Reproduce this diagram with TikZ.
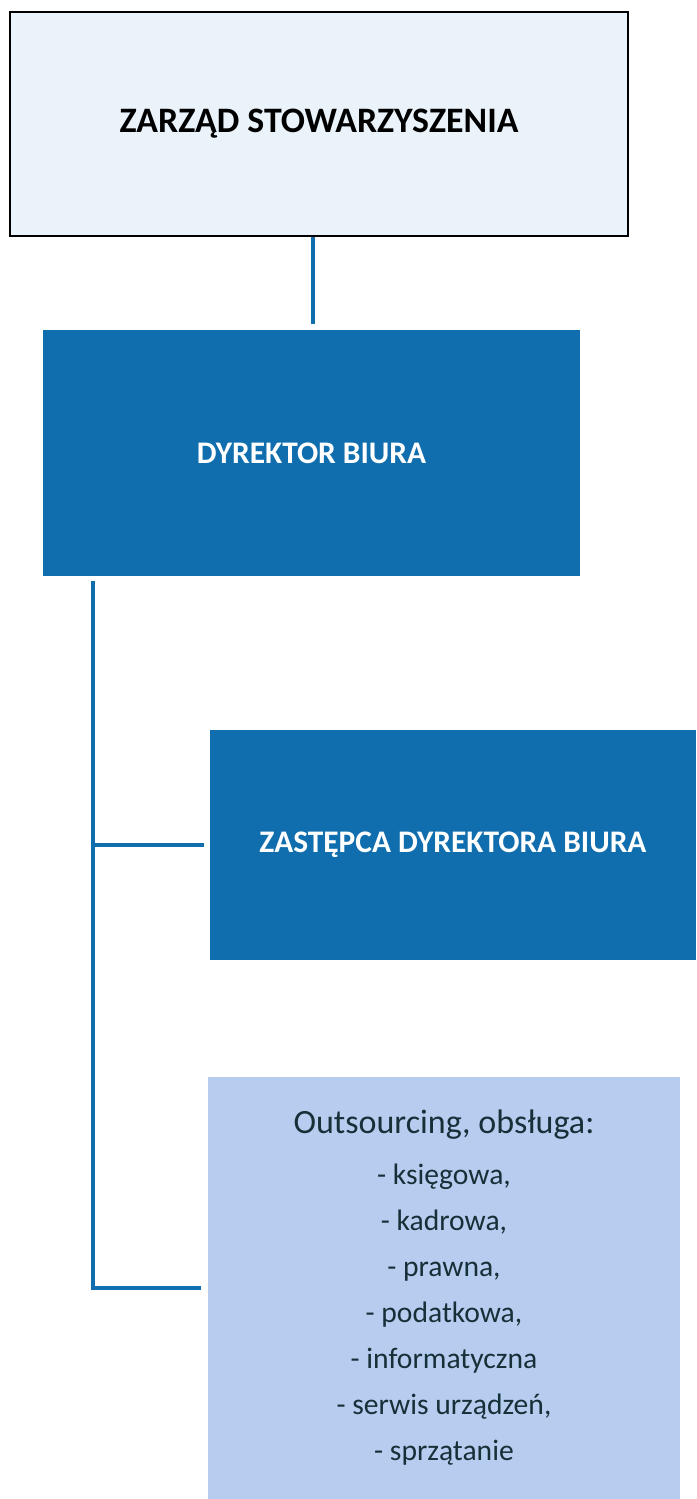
\documentclass[tikz,border=0pt]{standalone}
\usepackage{fontspec}
\setmainfont{Carlito}
\usetikzlibrary{positioning}
\definecolor{paleblue}{RGB}{234,243,250}
\definecolor{darkblue}{RGB}{16,110,174}
\definecolor{lightblue}{RGB}{182,205,240}
\definecolor{darktext}{RGB}{22,48,56}
\begin{document}
\begin{tikzpicture}[x=0.5pt, y=-0.5pt, thick,
  head/.style = {draw=black, line width=1pt, fill=paleblue, minimum width=309pt, minimum height=112pt, font=\fontsize{17.9}{21}\selectfont\bfseries},
  boss/.style = {fill=darkblue, text=white, font=\fontsize{15.7}{18}\selectfont\bfseries},
  extra/.style = {fill=lightblue, text=darktext, align=center, font=\fontsize{14.8}{23}\selectfont},
  link/.style = {draw=darkblue, line width=2pt}]
  \useasboundingbox (0,0) rectangle (696,1499);
  \node[head] (zarzad) at (319,124) {ZARZĄD STOWARZYSZENIA};
  \node[boss, minimum width=268.5pt, minimum height=123pt] (dyrektor) at (311.5,453) {DYREKTOR BIURA};
  \node[boss, minimum width=243pt, minimum height=115pt] (zastepca) at (453,845) {ZASTĘPCA DYREKTORA BIURA};
  \node[extra, minimum width=236pt, minimum height=211pt] (outsourcing) at (444,1288)
    {{\fontsize{17}{23}\selectfont Outsourcing, obsługa:}\\[2.5pt]- księgowa,\\- kadrowa,\\- prawna,\\- podatkowa,\\- informatyczna\\- serwis urządzeń,\\- sprzątanie};

  \draw[link] ([xshift=0.75pt]dyrektor.north |- zarzad.south) -- ([xshift=0.75pt, yshift=2.5pt]dyrektor.north);
  \draw[link] ([xshift=25.5pt, yshift=-2pt]dyrektor.south west) |- ([xshift=-2.5pt]zastepca.west);
  \draw[link] ([xshift=25.5pt, yshift=-2pt]dyrektor.south west) |- ([xshift=-3pt]outsourcing.west);
\end{tikzpicture}
\end{document}
